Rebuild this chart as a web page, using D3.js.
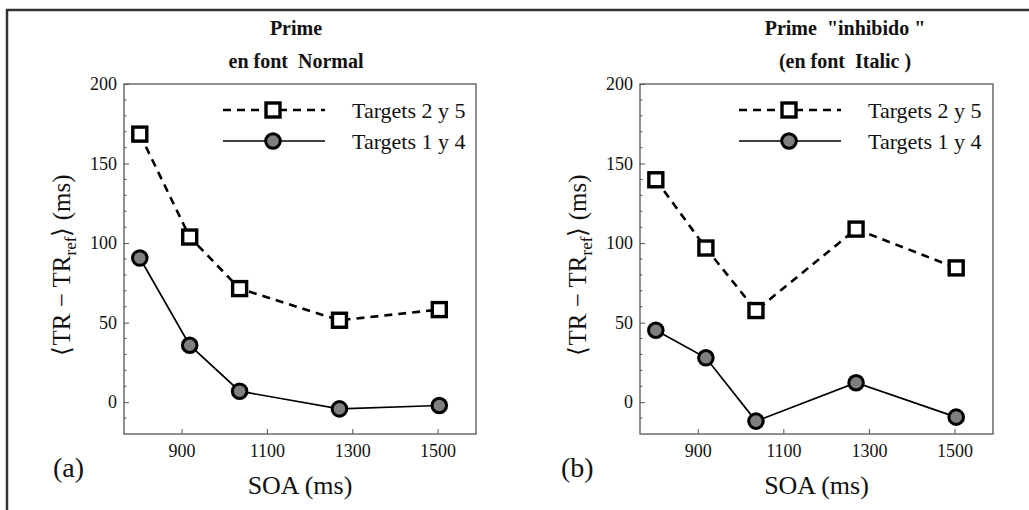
<!DOCTYPE html>
<html>
<head>
<meta charset="utf-8">
<script src="https://cdn.jsdelivr.net/npm/d3@7"></script>
<style>
  body { margin: 0; background: #fff; }
  text { font-family: "Liberation Serif", "Times New Roman", serif; fill: #111; }
</style>
</head>
<body>
<div id="chart"></div>
<script>
// data
var soa = [802, 919, 1036, 1270, 1504];
var normalSquares = [168.5, 103.8, 71.4, 51.5, 58.2];   // Targets 2 y 5
var normalCircles = [90.6, 35.8, 6.9, -4.2, -2.1];      // Targets 1 y 4
var italicSquares = [139.8, 96.9, 57.6, 108.8, 84.4];
var italicCircles = [45.2, 27.9, -11.9, 12.2, -9.4];
var xTicks = [900, 1100, 1300, 1500];
var yTicks = [0, 50, 100, 150, 200];
var yMinor = [-10, 10, 20, 30, 40, 60, 70, 80, 90, 110, 120, 130, 140, 160, 170, 180, 190];
var legendLabels = ["Targets 2 y 5", "Targets 1 y 4"];

var W = 1029, H = 510;

var svg = d3.select("#chart").append("svg")
    .attr("width", W)
    .attr("height", H);

// outer border (only top and left show)
svg.append("path")
    .attr("d", "M7,510 L7,10 L1029,10")
    .attr("fill", "none")
    .attr("stroke", "#333")
    .attr("stroke-width", 2.5);

var panels = [
    { left: 124, right: 476, title: ["Prime", "en font  Normal"], titleX: 296,
      tag: "(a)", tagX: 53, labelX: 70, sq: normalSquares, ci: normalCircles },
    { left: 640, right: 993, title: ["Prime  \"inhibido \"", "(en font  Italic )"], titleX: 845,
      tag: "(b)", tagX: 561, labelX: 586, sq: italicSquares, ci: italicCircles }
];

var plotTop = 84, plotBottom = 434;

panels.forEach(function (p) {
    var x = d3.scaleLinear().domain([765, 1590]).range([p.left, p.right]);
    var y = d3.scaleLinear().domain([-20, 200]).range([plotBottom, plotTop]);

    var g = svg.append("g");

    // titles
    g.append("text")
        .attr("x", p.titleX).attr("y", 35)
        .attr("text-anchor", "middle")
        .style("font-size", "20px").style("font-weight", "bold")
        .style("white-space", "pre")
        .text(p.title[0]);
    g.append("text")
        .attr("x", p.titleX).attr("y", 68)
        .attr("text-anchor", "middle")
        .style("font-size", "20px").style("font-weight", "bold")
        .style("white-space", "pre")
        .text(p.title[1]);

    // minor y ticks
    g.selectAll(".minor")
        .data(yMinor)
        .enter().append("line")
        .attr("x1", p.left).attr("x2", p.left + 2.5)
        .attr("y1", function (d) { return y(d); })
        .attr("y2", function (d) { return y(d); })
        .attr("stroke", "#555").attr("stroke-width", 1);

    // y axis
    var yAxis = g.append("g")
        .attr("transform", "translate(" + p.left + ",0)")
        .call(d3.axisLeft(y).tickValues(yTicks).tickSizeInner(-5).tickSizeOuter(0).tickPadding(7));
    // x axis
    var xAxis = g.append("g")
        .attr("transform", "translate(0," + plotBottom + ")")
        .call(d3.axisBottom(x).tickValues(xTicks).tickFormat(d3.format("d")).tickSizeInner(-5).tickSizeOuter(0).tickPadding(10));

    [yAxis, xAxis].forEach(function (a) {
        a.select(".domain").remove();
        a.selectAll("line").attr("stroke", "#555");
        a.selectAll("text")
            .style("font-family", "'Liberation Serif', 'Times New Roman', serif")
            .style("font-size", "18px").attr("fill", "#111");
    });
    xAxis.selectAll("text").attr("dy", "0.71em");

    // frame
    g.append("rect")
        .attr("x", p.left).attr("y", plotTop)
        .attr("width", p.right - p.left).attr("height", plotBottom - plotTop)
        .attr("fill", "none").attr("stroke", "#555").attr("stroke-width", 1.3);

    // lines
    var line = d3.line()
        .x(function (d) { return x(d[0]); })
        .y(function (d) { return y(d[1]); });

    var sqData = soa.map(function (s, i) { return [s, p.sq[i]]; });
    var ciData = soa.map(function (s, i) { return [s, p.ci[i]]; });

    g.append("path").datum(sqData)
        .attr("d", line).attr("fill", "none")
        .attr("stroke", "#000").attr("stroke-width", 2.6)
        .attr("stroke-dasharray", "8,6");
    g.append("path").datum(ciData)
        .attr("d", line).attr("fill", "none")
        .attr("stroke", "#000").attr("stroke-width", 1.7);

    g.selectAll(".sq")
        .data(sqData)
        .enter().append("rect")
        .attr("x", function (d) { return x(d[0]) - 7; })
        .attr("y", function (d) { return y(d[1]) - 7; })
        .attr("width", 14).attr("height", 14)
        .attr("fill", "#fff").attr("stroke", "#000").attr("stroke-width", 3.4);

    g.selectAll(".ci")
        .data(ciData)
        .enter().append("circle")
        .attr("cx", function (d) { return x(d[0]); })
        .attr("cy", function (d) { return y(d[1]); })
        .attr("r", 7.3)
        .attr("fill", "#7f7f7f").attr("stroke", "#000").attr("stroke-width", 3);

    // legend
    var lx0 = p.left + 99, lx1 = p.left + 201, lm = p.left + 149;
    var ly = [110, 141];
    g.append("line")
        .attr("x1", lx0).attr("x2", lx1).attr("y1", ly[0]).attr("y2", ly[0])
        .attr("stroke", "#000").attr("stroke-width", 2.6).attr("stroke-dasharray", "8,6");
    g.append("rect")
        .attr("x", lm - 7).attr("y", ly[0] - 7).attr("width", 14).attr("height", 14)
        .attr("fill", "#fff").attr("stroke", "#000").attr("stroke-width", 3.4);
    g.append("line")
        .attr("x1", lx0).attr("x2", lx1).attr("y1", ly[1]).attr("y2", ly[1])
        .attr("stroke", "#000").attr("stroke-width", 1.7);
    g.append("circle")
        .attr("cx", lm).attr("cy", ly[1]).attr("r", 7.3)
        .attr("fill", "#7f7f7f").attr("stroke", "#000").attr("stroke-width", 3);
    legendLabels.forEach(function (t, i) {
        g.append("text")
            .attr("x", p.left + 228).attr("y", ly[i]).attr("dy", "0.35em")
            .style("font-size", "22px")
            .text(t);
    });

    // axis labels
    g.append("text")
        .attr("x", (p.left + p.right) / 2).attr("y", 494)
        .attr("text-anchor", "middle")
        .style("font-size", "26px")
        .text("SOA (ms)");

    var yl = g.append("text")
        .attr("transform", "translate(" + p.labelX + ",265) rotate(-90)")
        .attr("text-anchor", "middle")
        .style("font-size", "25px");
    yl.append("tspan").text("\u27E8TR \u2212 TR");
    yl.append("tspan").attr("dy", 6).style("font-size", "17px").text("ref");
    yl.append("tspan").attr("dy", -6).text("\u27E9 (ms)");

    // panel tag
    g.append("text")
        .attr("x", p.tagX).attr("y", 477)
        .style("font-size", "28px")
        .text(p.tag);
});
</script>
</body>
</html>
